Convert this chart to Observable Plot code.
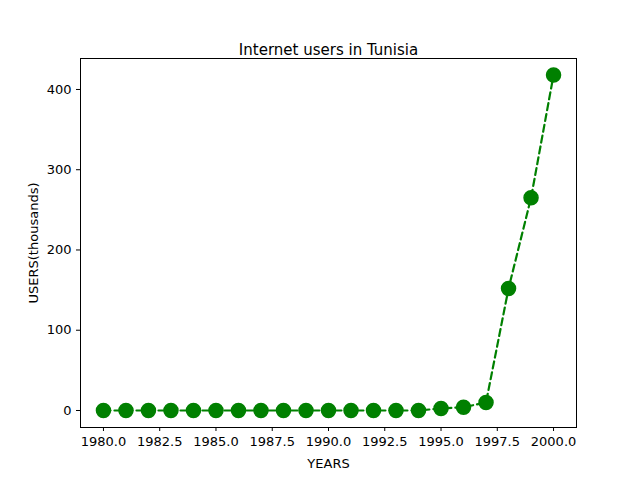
<!DOCTYPE html>
<html>
<head>
<script src="https://cdn.jsdelivr.net/npm/d3@7"></script>
<script src="https://cdn.jsdelivr.net/npm/@observablehq/plot@0.6"></script>
<style>body{margin:0;background:#fff;font-family:"DejaVu Sans",sans-serif;}</style>
</head>
<body>
<div id="chart"></div>
<script>
const years = d3.range(1980, 2001);
const users = [0, 0, 0, 0, 0, 0, 0, 0, 0, 0, 0, 0, 0, 0, 0, 2.5, 4, 10, 152, 265, 418];
const data = years.map((y, i) => ({year: y, users: users[i]}));

const chart = Plot.plot({
  width: 640,
  height: 480,
  marginLeft: 80,
  marginRight: 64,
  marginTop: 58,
  marginBottom: 53,
  style: {fontFamily: "DejaVu Sans", fontSize: "13px", color: "black", background: "white"},
  x: {
    domain: [1978.98, 2001.02],
    ticks: d3.range(1980, 2000.1, 2.5),
    tickFormat: d => d.toFixed(1),
    tickSize: 4,
    label: "YEARS",
    labelAnchor: "center",
    labelArrow: "none",
    labelOffset: 40
  },
  y: {
    domain: [-21.2, 438.6],
    ticks: [0, 100, 200, 300, 400],
    tickSize: 4,
    label: "USERS(thousands)",
    labelAnchor: "center",
    labelArrow: "none",
    labelOffset: 52
  },
  marks: [
    Plot.frame({stroke: "black"}),
    Plot.line(data, {x: "year", y: "users", stroke: "green", strokeWidth: 2.2, strokeDasharray: "7,4"}),
    Plot.dot(data, {x: "year", y: "users", r: 7, fill: "green", stroke: "green"}),
    Plot.text(["Internet users in Tunisia"], {frameAnchor: "top", dy: -14, fontSize: 15, fill: "black"})
  ]
});
document.getElementById("chart").append(chart);
</script>
</body>
</html>
